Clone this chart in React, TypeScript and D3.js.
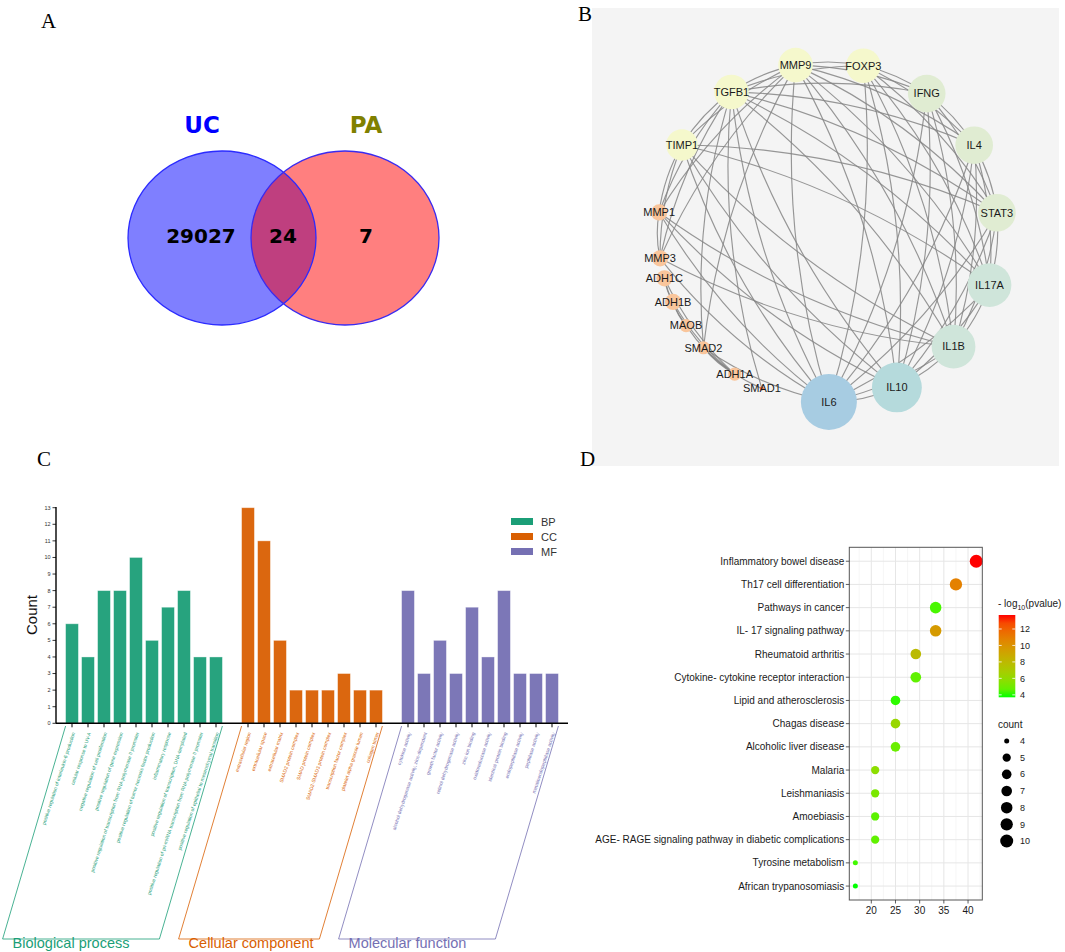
import * as d3 from "d3";

const W = 1065;
const H = 952;
const SANS = "'Liberation Sans', Arial, sans-serif";
const SERIF = "'Liberation Serif', 'Times New Roman', serif";

// ---------- A: venn ----------
const vennSets = ["UC", "PA"];
const vennCounts = [29027, 24, 7]; // UC only, both, PA only

// ---------- B: PPI network ----------
const geneNames = ["MMP9", "FOXP3", "IFNG", "IL4", "STAT3", "IL17A", "IL1B", "IL10", "IL6", "SMAD1", "ADH1A", "SMAD2", "MAOB", "ADH1B", "ADH1C", "MMP3", "MMP1", "TIMP1", "TGFB1"];
// angle on the circle layout, degrees clockwise from top
const geneAngles = [-11, 12, 35.5, 59.3, 83.5, 108.2, 132.4, 156.1, 179.7, -157.1, -146.7, -132.9, -123.4, -114.3, -105.8, -98.9, -83.4, -59.2, -34.6];
const geneDegree = [11, 11, 12, 12, 12, 14, 14, 16, 18, 1, 4, 4, 4, 5, 5, 5, 5, 10, 11];
const geneEdges = [
  "IL6-IL10", "IL6-IL1B", "IL6-IL17A", "IL6-STAT3", "IL6-IL4", "IL6-IFNG", "IL6-FOXP3", "IL6-MMP9", "IL6-TGFB1", "IL6-TIMP1", "IL6-MMP1", "IL6-MMP3", "IL6-SMAD2",
  "IL10-IL1B", "IL10-IL17A", "IL10-STAT3", "IL10-IL4", "IL10-IFNG", "IL10-FOXP3", "IL10-MMP9", "IL10-TGFB1", "IL10-TIMP1", "IL10-MMP1",
  "IL1B-IL17A", "IL1B-STAT3", "IL1B-IL4", "IL1B-IFNG", "IL1B-FOXP3", "IL1B-MMP9", "IL1B-TGFB1", "IL1B-TIMP1", "IL1B-MMP1", "IL1B-MMP3",
  "IL17A-STAT3", "IL17A-IL4", "IL17A-IFNG", "IL17A-FOXP3", "IL17A-MMP9", "IL17A-TGFB1", "IL17A-TIMP1",
  "STAT3-IL4", "STAT3-IFNG", "STAT3-FOXP3", "STAT3-MMP9", "STAT3-TGFB1", "STAT3-TIMP1",
  "IL4-IFNG", "IL4-FOXP3", "IL4-TGFB1", "IL4-MMP9",
  "IFNG-FOXP3", "IFNG-TGFB1", "IFNG-MMP9",
  "FOXP3-TGFB1", "FOXP3-MMP9",
  "TGFB1-MMP9", "TGFB1-TIMP1", "TGFB1-MMP1", "TGFB1-MMP3", "TGFB1-SMAD2", "TGFB1-SMAD1",
  "MMP9-TIMP1", "MMP9-MMP1", "MMP9-MMP3", "MMP9-SMAD2",
  "TIMP1-MMP1", "TIMP1-MMP3", "MMP1-MMP3",
  "ADH1C-ADH1B", "ADH1C-ADH1A", "ADH1C-MAOB", "ADH1B-ADH1A", "ADH1B-MAOB", "MAOB-ADH1A", "SMAD2-SMAD1", "SMAD2-ADH1A",
];

// ---------- C: GO enrichment ----------
const bpTerms = [
  "positive regulation of interleukin-6 production",
  "cellular response to UV-A",
  "negative regulation of cell proliferation",
  "positive regulation of gene expression",
  "positive regulation of transcription from RNA polymerase II promoter",
  "positive regulation of tumor necrosis factor production",
  "inflammatory response",
  "positive regulation of transcription, DNA-templated",
  "positive regulation of pri-miRNA transcription from RNA polymerase II promoter",
  "positive regulation of epithelial to mesenchymal transition",
];
const bpCounts = [6, 4, 8, 8, 10, 5, 7, 8, 4, 4];
const ccTerms = [
  "extracellular region",
  "extracellular space",
  "extracellular matrix",
  "SMAD2 protein complex",
  "SMAD protein complex",
  "SMAD2-SMAD3 protein complex",
  "transcription factor complex",
  "platelet alpha granule lumen",
  "collagen trimer",
];
const ccCounts = [13, 11, 5, 2, 2, 2, 3, 2, 2];
const mfTerms = [
  "cytokine activity",
  "alcohol dehydrogenase activity, zinc-dependent",
  "growth factor activity",
  "retinol dehydrogenase activity",
  "zinc ion binding",
  "oxidoreductase activity",
  "identical protein binding",
  "endopeptidase activity",
  "peptidase activity",
  "metalloendopeptidase activity",
];
const mfCounts = [8, 3, 5, 3, 7, 4, 8, 3, 3, 3];
const goGroups = ["BP", "CC", "MF"];
const goGroupNames = ["Biological process", "Cellular component", "Molecular function"];
const goColors = ["#1b9e77", "#d95f02", "#7570b3"];

// ---------- D: KEGG bubble ----------
const keggTerms = [
  "Inflammatory bowel disease",
  "Th17 cell differentiation",
  "Pathways in cancer",
  "IL- 17 signaling pathway",
  "Rheumatoid arthritis",
  "Cytokine- cytokine receptor interaction",
  "Lipid and atherosclerosis",
  "Chagas disease",
  "Alcoholic liver disease",
  "Malaria",
  "Leishmaniasis",
  "Amoebiasis",
  "AGE- RAGE signaling pathway in diabetic complications",
  "Tyrosine metabolism",
  "African trypanosomiasis",
];
const keggRatio = [41.7, 37.5, 33.3, 33.3, 29.2, 29.2, 25, 25, 25, 20.8, 20.8, 20.8, 20.8, 16.7, 16.7];
const keggCount = [10, 9, 8, 8, 7, 7, 6, 6, 6, 5, 5, 5, 5, 4, 4];
const keggLogP = [13.7, 10.8, 4.2, 9.6, 7.9, 4.6, 3.9, 6.2, 4.8, 5.8, 5.2, 4.5, 4.6, 4.1, 3.7];
const countLegend = [4, 5, 6, 7, 8, 9, 10];
const logPTicks = [4, 6, 8, 10, 12];

function Venn() {
  const ex = [222, 345];
  const ey = 238;
  return (
    <g>
      <ellipse cx={ex[0]} cy={ey} rx={94} ry={87} fill="#0000ff" fillOpacity={0.5} />
      <ellipse cx={ex[1]} cy={ey} rx={94} ry={87} fill="#ff0000" fillOpacity={0.5} />
      <ellipse cx={ex[0]} cy={ey} rx={94} ry={87} fill="none" stroke="#2b2bff" strokeWidth={1.3} />
      <ellipse cx={ex[1]} cy={ey} rx={94} ry={87} fill="none" stroke="#3a2bf0" strokeWidth={1.3} />
      <text x={202} y={133} textAnchor="middle" fontFamily="'DejaVu Sans', sans-serif" fontWeight="bold" fontSize={23} fill="#0000ff">{vennSets[0]}</text>
      <text x={366} y={133} textAnchor="middle" fontFamily="'DejaVu Sans', sans-serif" fontWeight="bold" fontSize={23} fill="#808000">{vennSets[1]}</text>
      {[201, 283, 366].map((x, i) => (
        <text key={i} x={x} y={243} textAnchor="middle" fontFamily="'DejaVu Sans', sans-serif" fontWeight="bold" fontSize={20} fill="#000">{vennCounts[i]}</text>
      ))}
    </g>
  );
}

function Network() {
  const cx = 828, cy = 232, R = 170;
  const rNode = d3.scaleLinear().domain([1, 18]).range([2, 28]);
  const nodeColor = d3.scaleLinear<string>()
    .domain([1, 4, 5, 10, 11, 12, 14, 16, 18])
    .range(["#f0703c", "#f9c59b", "#f9c59b", "#f5f8cc", "#f5f8cc", "#e0ecd2", "#cfe5da", "#b5dadc", "#a7cce2"]);
  const nodes = geneNames.map((name, i) => {
    const a = (geneAngles[i] * Math.PI) / 180;
    return { name, x: cx + R * Math.sin(a), y: cy - R * Math.cos(a), deg: geneDegree[i] };
  });
  const byName = new Map(nodes.map((n) => [n.name, n]));
  const edgePath = (e: string) => {
    const [a, b] = e.split("-");
    const s = byName.get(a)!, t = byName.get(b)!;
    const mx = (s.x + t.x) / 2, my = (s.y + t.y) / 2;
    let nx = -(t.y - s.y), ny = t.x - s.x;
    if ((mx + nx * 0.01 - cx) ** 2 + (my + ny * 0.01 - cy) ** 2 < (mx - cx) ** 2 + (my - cy) ** 2) {
      nx = -nx; ny = -ny;
    }
    const k = 0.1;
    return `M${s.x},${s.y}Q${mx + nx * k},${my + ny * k} ${t.x},${t.y}`;
  };
  return (
    <g>
      <rect x={592} y={8} width={467} height={458} fill="#f4f4f4" />
      {geneEdges.map((e) => (
        <path key={e} d={edgePath(e)} fill="none" stroke="#858585" strokeWidth={1.15} strokeOpacity={0.85} />
      ))}
      {nodes.map((n) => (
        <circle key={n.name} cx={n.x} cy={n.y} r={rNode(n.deg)} fill={nodeColor(n.deg)} />
      ))}
      {nodes.map((n) => (
        <text key={n.name} x={n.x} y={n.y} dy="0.35em" textAnchor="middle" fontFamily={SANS} fontSize={11} fill="#1a1a1a">{n.name}</text>
      ))}
    </g>
  );
}

function GoBars() {
  const groups = [
    { terms: bpTerms, counts: bpCounts },
    { terms: ccTerms, counts: ccCounts },
    { terms: mfTerms, counts: mfCounts },
  ];
  const keys: string[] = [];
  groups.forEach((g, gi) => {
    if (gi > 0) keys.push("__gap" + gi);
    keys.push(...g.terms);
  });
  const x = d3.scaleBand().domain(keys).range([56, 568]).paddingInner(0.2).paddingOuter(0.6);
  const y = d3.scaleLinear().domain([0, 13]).range([723.3, 507.7]);
  const bw = x.bandwidth();
  const base = y(0);
  const slant = 63;
  const top = 726, bottom = 939;
  return (
    <g fontFamily={SANS}>
      {groups.map((g, gi) =>
        g.terms.map((t, i) => (
          <rect key={t} x={x(t)} y={y(g.counts[i])} width={bw} height={base - y(g.counts[i])}
            fill={goColors[gi]} fillOpacity={0.95} stroke="#ffffff" strokeOpacity={0.45} strokeWidth={0.8} />
        ))
      )}
      <line x1={56} x2={56} y1={507} y2={base} stroke="#000" strokeWidth={1.4} />
      <line x1={56} x2={568} y1={base} y2={base} stroke="#000" strokeWidth={1.4} />
      {y.ticks(13).map((v) => (
        <g key={v}>
          <line x1={52.5} x2={56} y1={y(v)} y2={y(v)} stroke="#000" strokeWidth={0.8} />
          <text x={50.5} y={y(v)} dy="0.35em" textAnchor="end" fontSize={5.5} fill="#333">{v}</text>
        </g>
      ))}
      <text transform="translate(37,615) rotate(-90)" textAnchor="middle" fontSize={15} fill="#111">Count</text>
      {groups.map((g, gi) =>
        g.terms.map((t) => {
          const c = x(t)! + bw / 2;
          return (
            <g key={t}>
              <line x1={c} x2={c} y1={base} y2={base + 4} stroke="#000" strokeWidth={1} />
              <text transform={`translate(${c + 1.5},${base + 9}) rotate(-72)`} dy="0.35em" textAnchor="end"
                fontSize={4.9} fill={goColors[gi]}>{t}</text>
            </g>
          );
        })
      )}
      {groups.map((g, gi) => {
        const l = x(g.terms[0])!;
        const r = x(g.terms[g.terms.length - 1])! + bw;
        return (
          <g key={gi}>
            <path d={`M${l},${top}L${l - slant},${bottom}L${r - slant},${bottom}L${r},${top}`} fill="none"
              stroke={goColors[gi]} strokeWidth={0.8} />
            <text x={l - slant + 10} y={947.5} fontSize={14.5} fill={goColors[gi]}>{goGroupNames[gi]}</text>
          </g>
        );
      })}
      {goGroups.map((k, i) => (
        <g key={k}>
          <rect x={511} y={518 + i * 15} width={22} height={7} fill={goColors[i]} />
          <text x={541} y={522 + i * 15} dy="0.35em" fontSize={11} fill="#333">{k}</text>
        </g>
      ))}
    </g>
  );
}

function KeggDots() {
  const left = 849.3, right = 982.3, top = 547.3, bottom = 900;
  const [xmin, xmax] = d3.extent(keggRatio) as [number, number];
  const pad = (xmax - xmin) * 0.05;
  const x = d3.scaleLinear().domain([xmin - pad, xmax + pad]).range([left, right]);
  const y = d3.scalePoint<string>().domain(keggTerms).range([top, bottom]).padding(0.6);
  const [pmin, pmax] = d3.extent(keggLogP) as [number, number];
  const color = d3.scaleLinear<string>().domain([pmin, pmax]).range(["#00ff00", "#ff0000"]).interpolate(d3.interpolateLab);
  const rScale = (c: number) => 2.5 + 4.0 * Math.sqrt((c - 4) / 6);
  const majors = d3.range(20, 41, 5);
  const minors = d3.range(17.5, 43, 5).filter((v) => x(v) > left && x(v) < right);
  const cbTop = 615, cbBottom = 697.3, cbLeft = 998.7, cbW = 16.6;
  const cb = d3.scaleLinear().domain([pmin, pmax]).range([cbBottom, cbTop]);
  const stops = d3.range(0, 1.0001, 0.1);
  return (
    <g fontFamily={SANS}>
      <defs>
        <linearGradient id="pgrad" x1="0" y1="1" x2="0" y2="0">
          {stops.map((s) => (
            <stop key={s} offset={s} stopColor={color(pmin + s * (pmax - pmin))} />
          ))}
        </linearGradient>
      </defs>
      <rect x={left} y={top} width={right - left} height={bottom - top} fill="#fff" />
      {minors.map((v) => (
        <line key={"mi" + v} x1={x(v)} x2={x(v)} y1={top} y2={bottom} stroke="#f0f0f0" strokeWidth={0.6} />
      ))}
      {majors.map((v) => (
        <line key={"ma" + v} x1={x(v)} x2={x(v)} y1={top} y2={bottom} stroke="#e6e6e6" strokeWidth={1} />
      ))}
      {keggTerms.map((t) => (
        <line key={"h" + t} x1={left} x2={right} y1={y(t)} y2={y(t)} stroke="#e6e6e6" strokeWidth={1} />
      ))}
      {keggTerms.map((t, i) => (
        <circle key={"c" + t} cx={x(keggRatio[i])} cy={y(t)} r={rScale(keggCount[i])} fill={color(keggLogP[i])} />
      ))}
      <rect x={left} y={top} width={right - left} height={bottom - top} fill="none" stroke="#555" strokeWidth={1} />
      {keggTerms.map((t) => (
        <g key={"l" + t}>
          <line x1={left - 3.5} x2={left} y1={y(t)} y2={y(t)} stroke="#333" strokeWidth={0.8} />
          <text x={left - 5} y={y(t)} dy="0.35em" textAnchor="end" fontSize={10} fill="#1a1a1a">{t}</text>
        </g>
      ))}
      {majors.map((v) => (
        <g key={"xt" + v}>
          <line x1={x(v)} x2={x(v)} y1={bottom} y2={bottom + 3.5} stroke="#333" strokeWidth={0.8} />
          <text x={x(v)} y={910} dy="0.35em" textAnchor="middle" fontSize={10} fill="#1a1a1a">{v}</text>
        </g>
      ))}
      <text x={998} y={607} fontSize={10} fill="#1a1a1a">
        - log<tspan fontSize={7} dy={3}>10</tspan><tspan dy={-3}>(pvalue)</tspan>
      </text>
      <rect x={cbLeft} y={cbTop} width={cbW} height={cbBottom - cbTop} fill="url(#pgrad)" />
      {logPTicks.map((v) => (
        <g key={"cb" + v}>
          <line x1={cbLeft} x2={cbLeft + 3} y1={cb(v)} y2={cb(v)} stroke="#fff" strokeWidth={0.8} />
          <line x1={cbLeft + cbW - 3} x2={cbLeft + cbW} y1={cb(v)} y2={cb(v)} stroke="#fff" strokeWidth={0.8} />
          <text x={1020} y={cb(v)} dy="0.35em" fontSize={9} fill="#1a1a1a">{v}</text>
        </g>
      ))}
      <text x={998} y={728} fontSize={10} fill="#1a1a1a">count</text>
      {countLegend.map((c, i) => (
        <g key={"cl" + c}>
          <circle cx={1006.7} cy={741 + i * 16.67} r={rScale(c)} fill="#000" />
          <text x={1020} y={741 + i * 16.67} dy="0.35em" fontSize={9} fill="#1a1a1a">{c}</text>
        </g>
      ))}
    </g>
  );
}

export default function App() {
  return (
    <div style={{ position: "absolute", left: 0, top: 0 }}>
      <svg width={W} height={H} style={{ display: "block", background: "#fff" }}>
        <Venn />
        <Network />
        <GoBars />
        <KeggDots />
        <g fontFamily={SERIF} fontSize={21} fill="#000">
          <text x={41} y={28}>A</text>
          <text x={578} y={21}>B</text>
          <text x={37} y={466}>C</text>
          <text x={580} y={466}>D</text>
        </g>
      </svg>
    </div>
  );
}
